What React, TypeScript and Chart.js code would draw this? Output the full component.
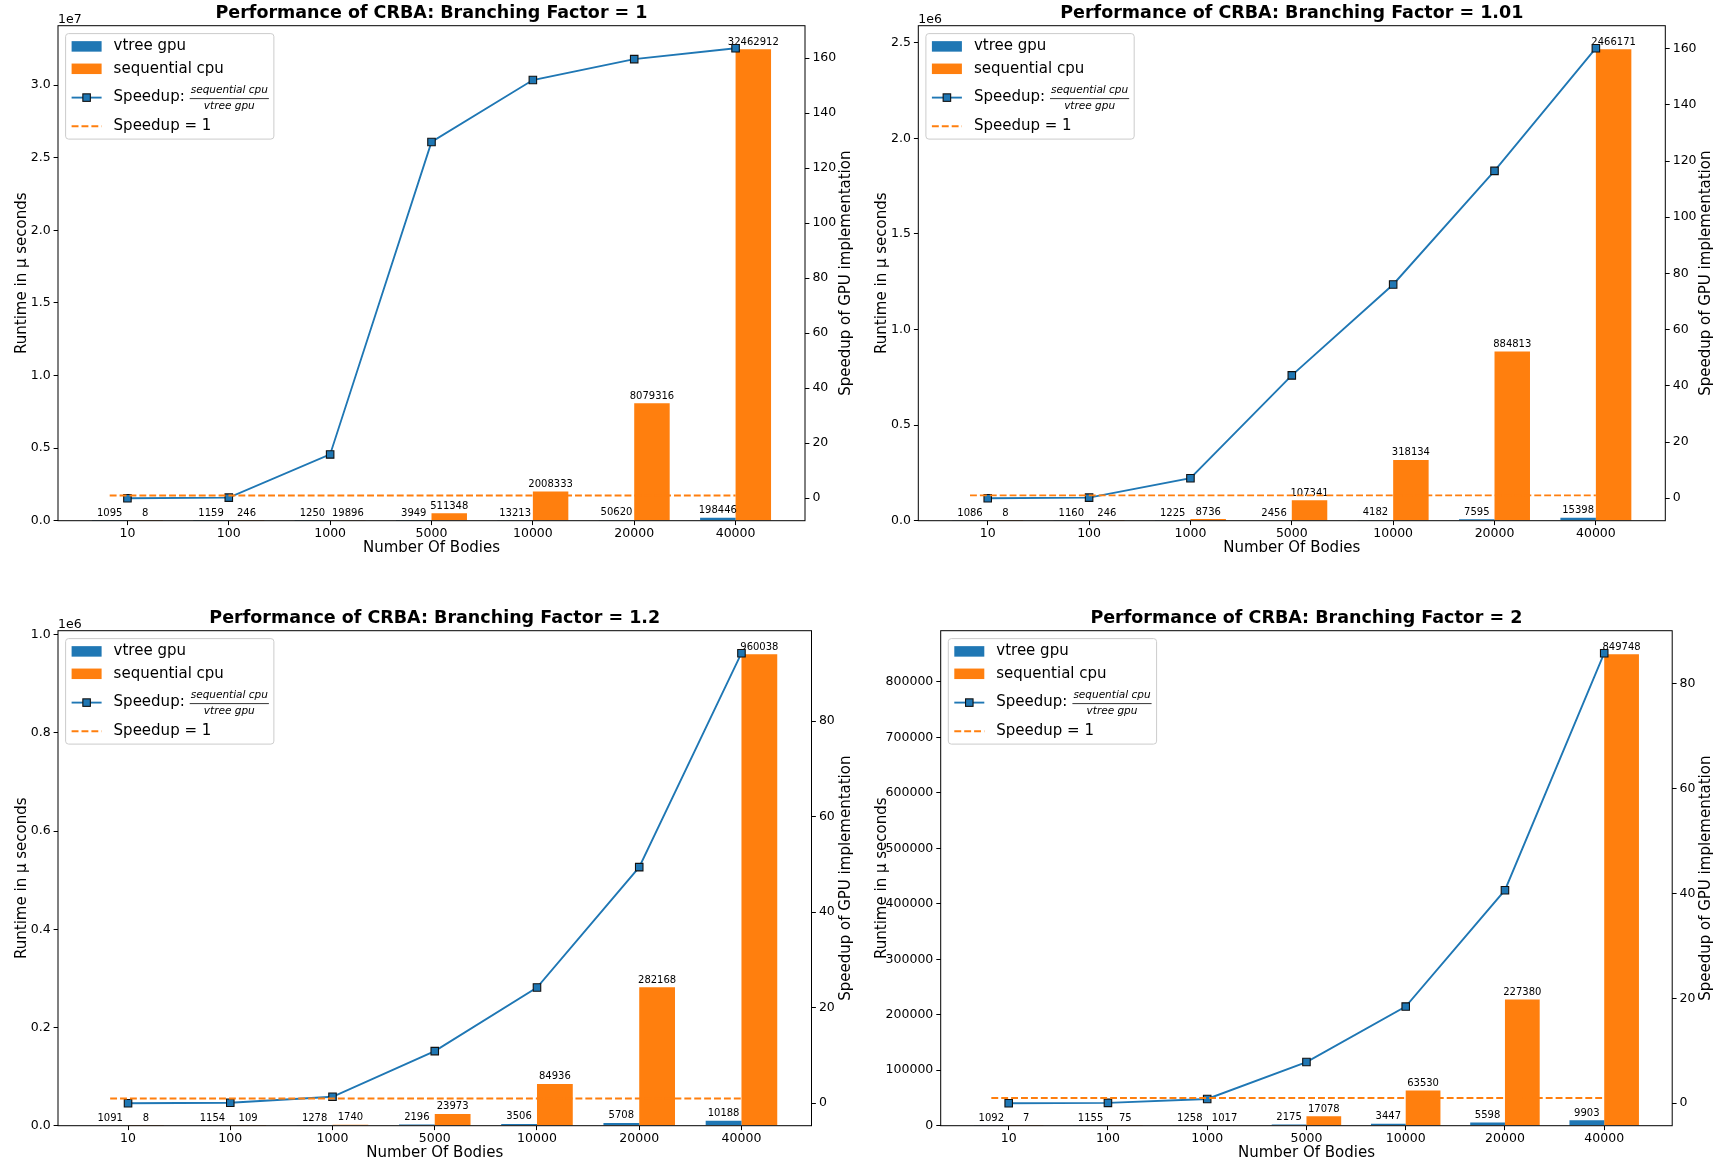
import React, { useEffect, useRef } from "react";
import { Chart, registerables } from "chart.js";

Chart.register(...registerables);

// ---------------- data ----------------
const bodyCounts = ["10", "100", "1000", "5000", "10000", "20000", "40000"];

const gpuBF1 = [1095, 1159, 1250, 3949, 13213, 50620, 198446];
const cpuBF1 = [8, 246, 19896, 511348, 2008333, 8079316, 32462912];
const speedupBF1 = [0.0073, 0.212, 15.92, 129.49, 152.0, 159.61, 163.58];

const gpuBF101 = [1086, 1160, 1225, 2456, 4182, 7595, 15398];
const cpuBF101 = [8, 246, 8736, 107341, 318134, 884813, 2466171];
const speedupBF101 = [0.0074, 0.212, 7.13, 43.71, 76.07, 116.5, 160.16];

const gpuBF12 = [1091, 1154, 1278, 2196, 3506, 5708, 10188];
const cpuBF12 = [8, 109, 1740, 23973, 84936, 282168, 960038];
const speedupBF12 = [0.0073, 0.0945, 1.36, 10.92, 24.23, 49.43, 94.23];

const gpuBF2 = [1092, 1155, 1258, 2175, 3447, 5598, 9903];
const cpuBF2 = [7, 75, 1017, 17078, 63530, 227380, 849748];
const speedupBF2 = [0.0064, 0.065, 0.81, 7.85, 18.43, 40.62, 85.81];

const speedupReference = 1;

const panelTitles = [
  "Performance of CRBA: Branching Factor = 1",
  "Performance of CRBA: Branching Factor = 1.01",
  "Performance of CRBA: Branching Factor = 1.2",
  "Performance of CRBA: Branching Factor = 2",
];
const runtimeTickSteps = [5e6, 5e5, 2e5, 1e5];
const runtimeOffsetPowers = [7, 6, 6, 0];
const speedupTickStep = 20;

const xAxisTitle = "Number Of Bodies";
const yAxisTitle = "Runtime in \u03bc seconds";
const y2AxisTitle = "Speedup of GPU implementation";
const legendGpu = "vtree gpu";
const legendCpu = "sequential cpu";
const legendSpeedup = "Speedup:";
const legendFracNum = "sequential cpu";
const legendFracDen = "vtree gpu";
const legendRef = "Speedup = 1";

// ---------------- layout / style ----------------
const layouts = [
  { x: 0, y: 0, w: 860, h: 580, left: 58, right: 805, top: 25.7, bottom: 520.7 },
  { x: 860, y: 0, w: 860, h: 580, left: 58.3, right: 805.3, top: 25.7, bottom: 520.7 },
  { x: 0, y: 580, w: 860, h: 585, left: 58, right: 811.5, top: 50.7, bottom: 545.7 },
  { x: 860, y: 580, w: 860, h: 585, left: 80.7, right: 812.2, top: 50.7, bottom: 545.7 },
];

const FONT = "'DejaVu Sans', 'Liberation Sans', sans-serif";
const BLUE = "#1f77b4";
const ORANGE = "#ff7f0e";
const BAR_WIDTH = 0.35;

Chart.defaults.font.family = FONT;
Chart.defaults.color = "#000";

const panels = [
  { title: panelTitles[0], gpu: gpuBF1, cpu: cpuBF1, speedup: speedupBF1, step: runtimeTickSteps[0], pow: runtimeOffsetPowers[0], L: layouts[0] },
  { title: panelTitles[1], gpu: gpuBF101, cpu: cpuBF101, speedup: speedupBF101, step: runtimeTickSteps[1], pow: runtimeOffsetPowers[1], L: layouts[1] },
  { title: panelTitles[2], gpu: gpuBF12, cpu: cpuBF12, speedup: speedupBF12, step: runtimeTickSteps[2], pow: runtimeOffsetPowers[2], L: layouts[2] },
  { title: panelTitles[3], gpu: gpuBF2, cpu: cpuBF2, speedup: speedupBF2, step: runtimeTickSteps[3], pow: runtimeOffsetPowers[3], L: layouts[3] },
];

type Panel = (typeof panels)[number];

function drawLegend(ctx: CanvasRenderingContext2D, area: any) {
  const fs = 15;
  const bx = area.left + 7.6;
  const by = area.top + 7.9;
  const hx = bx + 6;
  const hw = 30;
  const tx = bx + 48;
  const rows = [12.8, 35.2, 64.0, 92.6].map((r) => by + r);

  ctx.save();
  ctx.font = `${fs}px ${FONT}`;
  const sw = ctx.measureText(legendSpeedup).width;
  const w0 = ctx.measureText(legendGpu).width;
  const w1 = ctx.measureText(legendCpu).width;
  const w3 = ctx.measureText(legendRef).width;
  ctx.font = `italic 10.5px ${FONT}`;
  const nw = ctx.measureText(legendFracNum).width;
  const dw = ctx.measureText(legendFracDen).width;
  const fw = Math.max(nw, dw) + 2;
  const fx = tx + sw + 5;
  const right = Math.max(tx + w0, tx + w1, tx + w3, fx + fw) + 5;
  const bw = right - bx;
  const bh = 105.5;

  // frame
  ctx.beginPath();
  (ctx as any).roundRect(bx, by, bw, bh, 3);
  ctx.fillStyle = "rgba(255,255,255,0.8)";
  ctx.fill();
  ctx.strokeStyle = "#cccccc";
  ctx.lineWidth = 1;
  ctx.stroke();

  // handles
  ctx.fillStyle = BLUE;
  ctx.fillRect(hx, rows[0] - 5.25, hw, 10.5);
  ctx.fillStyle = ORANGE;
  ctx.fillRect(hx, rows[1] - 5.25, hw, 10.5);

  ctx.beginPath();
  ctx.moveTo(hx, rows[2]);
  ctx.lineTo(hx + hw, rows[2]);
  ctx.strokeStyle = BLUE;
  ctx.lineWidth = 1.875;
  ctx.stroke();
  ctx.fillStyle = BLUE;
  ctx.fillRect(hx + hw / 2 - 3.75, rows[2] - 3.75, 7.5, 7.5);
  ctx.strokeStyle = "#111";
  ctx.lineWidth = 1.1;
  ctx.strokeRect(hx + hw / 2 - 3.75, rows[2] - 3.75, 7.5, 7.5);

  ctx.beginPath();
  ctx.setLineDash([6.9, 3]);
  ctx.moveTo(hx, rows[3]);
  ctx.lineTo(hx + hw, rows[3]);
  ctx.strokeStyle = ORANGE;
  ctx.lineWidth = 1.875;
  ctx.stroke();
  ctx.setLineDash([]);

  // texts
  ctx.fillStyle = "#000";
  ctx.font = `${fs}px ${FONT}`;
  ctx.textAlign = "left";
  ctx.textBaseline = "middle";
  ctx.fillText(legendGpu, tx, rows[0]);
  ctx.fillText(legendCpu, tx, rows[1]);
  ctx.fillText(legendSpeedup, tx, rows[2]);
  ctx.fillText(legendRef, tx, rows[3]);

  ctx.font = `italic 10.5px ${FONT}`;
  ctx.textAlign = "center";
  const fc = fx + fw / 2;
  ctx.fillText(legendFracNum, fc, rows[2] - 7.6);
  ctx.fillText(legendFracDen, fc, rows[2] + 8.2);
  ctx.beginPath();
  ctx.moveTo(fx, rows[2] + 1);
  ctx.lineTo(fx + fw, rows[2] + 1);
  ctx.strokeStyle = "#000";
  ctx.lineWidth = 0.8;
  ctx.stroke();
  ctx.restore();
}

function makeDecor(p: Panel) {
  return {
    id: "decor",
    afterDatasetDraw(chart: any, args: any) {
      if (args.index !== 0) return;
      const ctx: CanvasRenderingContext2D = chart.ctx;
      ctx.save();
      ctx.font = `10px ${FONT}`;
      ctx.fillStyle = "#000";
      ctx.textAlign = "center";
      ctx.textBaseline = "alphabetic";
      [p.gpu, p.cpu].forEach((vals, k) => {
        const meta = chart.getDatasetMeta(k);
        meta.data.forEach((el: any, i: number) => {
          ctx.fillText(String(vals[i]), el.x, el.y - 4.5);
        });
      });
      ctx.restore();
    },
    afterDatasetsDraw(chart: any) {
      const ctx: CanvasRenderingContext2D = chart.ctx;
      const a = chart.chartArea;
      ctx.save();
      ctx.strokeStyle = "#000";
      ctx.lineWidth = 1;
      ctx.strokeRect(a.left, a.top, a.right - a.left, a.bottom - a.top);
      ctx.restore();
    },
    afterDraw(chart: any) {
      const ctx: CanvasRenderingContext2D = chart.ctx;
      const a = chart.chartArea;
      const cx = (a.left + a.right) / 2;
      const cy = (a.top + a.bottom) / 2;
      ctx.save();
      ctx.fillStyle = "#000";
      ctx.textAlign = "center";
      ctx.textBaseline = "middle";
      ctx.font = `bold 17.5px ${FONT}`;
      ctx.fillText(p.title, cx, a.top - 12.2);
      ctx.font = `15px ${FONT}`;
      ctx.fillText(xAxisTitle, cx, a.bottom + 27.6);
      ctx.save();
      ctx.translate(22.5, cy);
      ctx.rotate(-Math.PI / 2);
      ctx.fillText(yAxisTitle, 0, 0);
      ctx.restore();
      ctx.save();
      ctx.translate(846, cy);
      ctx.rotate(-Math.PI / 2);
      ctx.fillText(y2AxisTitle, 0, 0);
      ctx.restore();
      if (p.pow > 0) {
        ctx.font = `12.5px ${FONT}`;
        ctx.textAlign = "left";
        ctx.textBaseline = "alphabetic";
        ctx.fillText(`1e${p.pow}`, a.left, a.top - 3);
      }
      ctx.restore();
      drawLegend(ctx, a);
    },
  };
}

function makeChart(canvas: HTMLCanvasElement, p: Panel) {
  const L = p.L;
  const n = bodyCounts.length;
  const xLo = -BAR_WIDTH;
  const xHi = n - 1 + BAR_WIDTH;
  const xm = 0.05 * (xHi - xLo);
  const yMax = Math.max(...p.cpu) * 1.05;
  const sLo = Math.min(...p.speedup, speedupReference);
  const sHi = Math.max(...p.speedup, speedupReference);
  const sm = 0.05 * (sHi - sLo);
  const div = Math.pow(10, p.pow);

  const tickGrid = {
    display: true,
    drawOnChartArea: false,
    drawTicks: true,
    tickLength: 4.4,
    color: "#000",
    tickColor: "#000",
    lineWidth: 1,
    offset: false,
  };

  return new Chart(canvas, {
    type: "bar",
    data: {
      datasets: [
        {
          type: "bar",
          label: legendGpu,
          data: p.gpu.map((v, i) => ({ x: i, y: v })),
          backgroundColor: BLUE,
          borderWidth: 0,
          yAxisID: "y",
          order: 2,
          categoryPercentage: 2 * BAR_WIDTH,
          barPercentage: 1,
        } as any,
        {
          type: "bar",
          label: legendCpu,
          data: p.cpu.map((v, i) => ({ x: i, y: v })),
          backgroundColor: ORANGE,
          borderWidth: 0,
          yAxisID: "y",
          order: 2,
          categoryPercentage: 2 * BAR_WIDTH,
          barPercentage: 1,
        } as any,
        {
          type: "line",
          label: "speedup",
          data: p.speedup.map((v, i) => ({ x: i, y: v })),
          borderColor: BLUE,
          borderWidth: 1.875,
          pointStyle: "rect",
          pointRadius: 5.3,
          pointBackgroundColor: BLUE,
          pointBorderColor: "#111",
          pointBorderWidth: 1.1,
          yAxisID: "y2",
          order: 1,
          tension: 0,
        } as any,
        {
          type: "line",
          label: legendRef,
          data: [
            { x: -BAR_WIDTH / 2, y: speedupReference },
            { x: n - 1, y: speedupReference },
          ],
          borderColor: ORANGE,
          borderWidth: 1.875,
          borderDash: [6.9, 3],
          pointRadius: 0,
          yAxisID: "y2",
          order: 0,
        } as any,
      ],
    },
    options: {
      animation: false,
      responsive: false,
      devicePixelRatio: 1,
      layout: { padding: { top: L.top, left: 0, right: 0, bottom: 0 } },
      plugins: {
        legend: { display: false },
        title: { display: false },
        tooltip: { enabled: false },
      },
      scales: {
        x: {
          type: "linear",
          min: xLo - xm,
          max: xHi + xm,
          offset: false,
          grid: tickGrid as any,
          border: { display: false },
          ticks: {
            autoSkip: false,
            maxRotation: 0,
            minRotation: 0,
            padding: 1.5,
            font: { size: 12.5, family: FONT },
            color: "#000",
            callback: (_v: any, i: number) => bodyCounts[i],
          },
          afterBuildTicks: (s: any) => {
            s.ticks = bodyCounts.map((_, i) => ({ value: i }));
          },
          afterFit: (s: any) => {
            s.height = L.h - L.bottom;
          },
        },
        y: {
          type: "linear",
          position: "left",
          min: 0,
          max: yMax,
          grid: tickGrid as any,
          border: { display: false },
          ticks: {
            padding: 3,
            font: { size: 12.5, family: FONT },
            color: "#000",
            callback: (v: any) => (p.pow > 0 ? (Number(v) / div).toFixed(1) : String(Math.round(Number(v)))),
          },
          afterBuildTicks: (s: any) => {
            const t: any[] = [];
            for (let k = 0; k * p.step <= yMax; k++) t.push({ value: k * p.step });
            s.ticks = t;
          },
          afterFit: (s: any) => {
            s.width = L.left;
          },
        },
        y2: {
          type: "linear",
          position: "right",
          min: sLo - sm,
          max: sHi + sm,
          grid: tickGrid as any,
          border: { display: false },
          ticks: {
            padding: 3,
            font: { size: 12.5, family: FONT },
            color: "#000",
            callback: (v: any) => String(Math.round(Number(v))),
          },
          afterBuildTicks: (s: any) => {
            const t: any[] = [];
            for (let k = 0; k * speedupTickStep <= sHi + sm; k++) t.push({ value: k * speedupTickStep });
            s.ticks = t;
          },
          afterFit: (s: any) => {
            s.width = L.w - L.right;
          },
        },
      },
    } as any,
    plugins: [makeDecor(p) as any],
  });
}

function PanelChart({ p }: { p: Panel }) {
  const ref = useRef<HTMLCanvasElement>(null);
  useEffect(() => {
    if (!ref.current) return;
    const chart = makeChart(ref.current, p);
    return () => chart.destroy();
  }, [p]);
  const L = p.L;
  return (
    <canvas
      ref={ref}
      width={L.w}
      height={L.h}
      style={{ position: "absolute", left: L.x, top: L.y, width: L.w, height: L.h }}
    />
  );
}

export default function App() {
  return (
    <div style={{ position: "absolute", left: 0, top: 0, width: 1720, height: 1165, background: "#ffffff" }}>
      {panels.map((p, i) => (
        <PanelChart key={i} p={p} />
      ))}
    </div>
  );
}
